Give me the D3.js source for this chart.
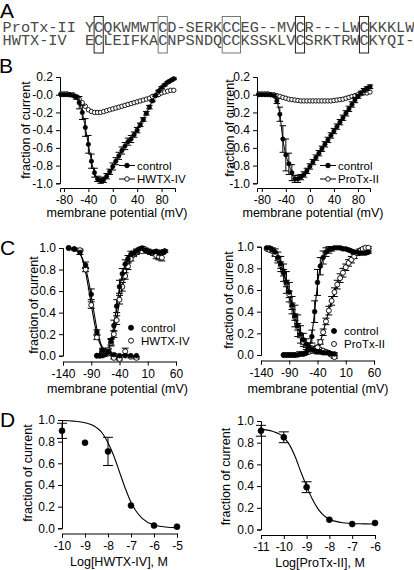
<!DOCTYPE html>
<html><head><meta charset="utf-8">
<script src="https://cdn.jsdelivr.net/npm/d3@7"></script>
<style>
body{margin:0;background:#fff}
svg{display:block}
</style>
</head><body>
<svg id="fig" width="414" height="570"></svg>
<script>
// ---------- DATA ----------
// Panel A: sequence alignment
const seqNames = ["ProTx-II", "HWTX-IV "];
const seqs = ["YCQKWMWTCD-SERKCCEG--MVCR---LWCKKKLW",
              "ECLEIFKACNPSNDQCCKSSKLVCSRKTRWCKYQI-"];
const cysBoxes = [[1,1],[8,8],[15,16],[23,23],[30,30]];
const boxGray = [false, true, true, false, false];

// Panel B: current-voltage relations
const ivV = [-85,-80,-75,-70,-65,-60,-55,-50,-45,-40,-35,-30,-25,-20,-15,-10,-5,0,5,10,15,20,25,30,35,40,45,50,55,60,65,70,75,80,85,90,95,100];
const ivCtrlHW = [0,0,0,0,-0.01,-0.03,-0.09,-0.2,-0.37,-0.56,-0.75,-0.88,-0.95,-0.97,-0.96,-0.92,-0.87,-0.81,-0.75,-0.69,-0.63,-0.58,-0.53,-0.5,-0.45,-0.4,-0.34,-0.28,-0.21,-0.14,-0.07,-0.01,0.04,0.08,0.11,0.14,0.16,0.18];
const ivErrCtrlHW = [0,0,0,0,0,0.02,0.07,0.08,0.1,0.1,0.08,0.05,0.03,0.03,0.03,0.03,0.03,0.04,0.04,0.04,0.04,0.04,0.04,0.04,0.03,0.03,0.02,0.02,0.02,0.02,0.01,0.01,0.01,0.01,0.01,0.01,0.01,0.01];
const ivHWTX = [0.01,0.01,0.01,0,0,-0.02,-0.05,-0.09,-0.13,-0.17,-0.19,-0.2,-0.2,-0.2,-0.19,-0.18,-0.17,-0.16,-0.15,-0.14,-0.13,-0.12,-0.11,-0.1,-0.09,-0.08,-0.07,-0.06,-0.05,-0.04,-0.02,-0.01,0,0.02,0.03,0.04,0.05,0.05];
const ivCtrlPT = [0,0,0,0,0,-0.01,-0.07,-0.22,-0.5,-0.68,-0.78,-0.88,-0.95,-0.95,-0.93,-0.9,-0.86,-0.81,-0.76,-0.71,-0.66,-0.61,-0.56,-0.51,-0.46,-0.41,-0.36,-0.31,-0.26,-0.21,-0.16,-0.11,-0.06,-0.02,0.02,0.05,0.07,0.09];
const ivErrCtrlPT = [0,0,0,0,0,0.01,0.03,0.08,0.15,0.18,0.12,0.09,0.04,0.04,0.03,0.03,0.03,0.03,0.03,0.03,0.03,0.03,0.03,0.03,0.03,0.03,0.03,0.03,0.03,0.03,0.03,0.03,0.03,0.02,0.02,0.02,0.02,0.02];
const ivProTx = [0.01,0.01,0.01,0.01,0,0,-0.01,-0.02,-0.03,-0.04,-0.05,-0.055,-0.06,-0.065,-0.07,-0.07,-0.07,-0.07,-0.07,-0.07,-0.07,-0.07,-0.07,-0.07,-0.07,-0.065,-0.06,-0.055,-0.05,-0.04,-0.03,-0.02,-0.01,0,0.01,0.02,0.02,0.03];
const ivYTicks = [0.2,0,-0.2,-0.4,-0.6,-0.8,-1.0];
const ivYLabels = ["0.2","-0.0","-0.2","-0.4","-0.6","-0.8","-1.0"];
const ivXTicks = [-80,-40,0,40,80];

// Panel C left: inactivation / activation, HWTX-IV
const inactV1 = [-130,-120,-110,-100,-90,-80,-70,-60,-50,-40,-30,-20,-10];
const inactCtrlHW = [1.0,0.99,0.96,0.84,0.57,0.22,0.05,0.03,0.01,0,0,0,0];
const inactErrCtrlHW = [0,0.01,0.02,0.03,0.05,0.02,0.02,0.01,0.01,0,0,0,0];
const inactHWTX = [1.0,0.99,0.98,0.8,0.47,0.17,0.05,0.02,-0.02,-0.03,0.04,-0.01,-0.02];
const inactErrHWTX = [0,0,0.01,0.02,0.03,0.02,0.01,0.01,0.01,0.01,0.03,0.01,0.01];
const actV1 = [-80,-75,-70,-65,-60,-55,-50,-45,-40,-35,-30,-25,-20,-15,-10,-5,0,5,10,15,20,25,30,35,40];
const actCtrlHW = [0,0,0,0.01,0.04,0.13,0.28,0.46,0.64,0.76,0.85,0.9,0.94,0.95,0.97,0.99,1.0,0.98,0.97,0.96,0.96,0.97,0.95,0.96,0.97];
const actErrCtrlHW = [0,0,0,0.01,0.02,0.03,0.05,0.06,0.06,0.05,0.04,0.03,0.03,0.02,0.02,0.01,0.01,0.01,0.01,0.01,0.01,0.01,0.02,0.02,0.01];
const actHWTX = [0,0,0.01,0.02,0.05,0.12,0.2,0.33,0.52,0.64,0.74,0.83,0.9,0.94,0.96,0.98,0.97,0.99,0.97,0.96,0.95,0.93,0.92,0.91,0.97];
const actErrHWTX = [0,0,0,0.01,0.02,0.03,0.03,0.04,0.04,0.04,0.03,0.03,0.02,0.02,0.02,0.01,0.01,0.01,0.02,0.02,0.02,0.03,0.03,0.03,0.01];

// Panel C right: inactivation / activation, ProTx-II
const inactV2 = [-130,-125,-120,-115,-110,-105,-100,-95,-90,-85,-80,-75,-70,-65,-60,-55,-50,-45,-40,-35,-30,-25,-20,-15,-10];
const inactCtrlPT = [0.99,0.99,0.97,0.95,0.9,0.84,0.76,0.67,0.58,0.46,0.36,0.27,0.19,0.14,0.1,0.07,0.05,0.04,0.03,0.03,0.02,0.02,0.02,0.01,0.01];
const inactErrCtrlPT = [0,0.01,0.02,0.03,0.05,0.07,0.08,0.1,0.09,0.08,0.1,0.1,0.08,0.06,0.05,0.04,0.03,0.02,0.02,0.01,0.01,0.01,0.01,0.01,0.01];
const inactProTx = [0.98,0.97,0.96,0.93,0.89,0.83,0.76,0.66,0.56,0.45,0.35,0.26,0.18,0.12,0.09,0.07,0.06,0.05,0.05,0.05,0.04,0.03,0.02,0,-0.02];
const inactErrProTx = [0,0.01,0.01,0.02,0.02,0.03,0.03,0.03,0.03,0.03,0.03,0.03,0.02,0.02,0.02,0.01,0.01,0.01,0.01,0.01,0.01,0.01,0.01,0.01,0.01];
const actV2 = [-100,-95,-90,-85,-80,-75,-70,-65,-60,-55,-50,-45,-40,-35,-30,-25,-20,-15,-10,-5,0,5,10,15,20,25,30,35,40,45,50];
const actCtrlPT = [0,0,0,0,0,0,0.01,0.01,0.02,0.05,0.17,0.4,0.67,0.82,0.9,0.95,0.97,0.98,0.99,0.99,0.99,0.98,0.98,0.97,0.96,0.95,0.95,0.94,0.94,0.94,0.95];
const actErrCtrlPT = [0,0,0,0,0,0,0,0.01,0.01,0.03,0.06,0.1,0.12,0.08,0.06,0.04,0.03,0.02,0.01,0.01,0.01,0.01,0.01,0.01,0.01,0.01,0.01,0.01,0.01,0.01,0.01];
const actProTx = [0,0,0,0,0,0.01,0.01,0.01,0.02,0.03,0.04,0.05,0.07,0.12,0.21,0.31,0.41,0.5,0.58,0.65,0.71,0.76,0.81,0.85,0.88,0.91,0.94,0.96,0.98,0.99,0.99];
const actErrProTx = [0,0,0,0,0,0,0,0,0,0.01,0.01,0.01,0.02,0.02,0.03,0.03,0.04,0.04,0.04,0.04,0.04,0.04,0.03,0.03,0.03,0.02,0.02,0.02,0.01,0.01,0.01];
const gvXTicks = [-140,-90,-40,10,60];
const gvYTicks = [0,0.2,0.4,0.6,0.8,1.0];

// Panel D: concentration-response
const doseHW = [-10,-9,-8,-7,-6,-5];
const respHW = [0.9,0.79,0.71,0.21,0.025,0.015];
const errHW = [0.07,0,0.13,0,0,0];
const fitHWx = [-10,-9.5,-9,-8.5,-8.25,-8,-7.75,-7.5,-7.25,-7,-6.75,-6.5,-6,-5.5,-5];
const fitHWy = [0.995,0.99,0.975,0.93,0.88,0.79,0.67,0.52,0.37,0.24,0.15,0.09,0.03,0.012,0.006];
const dosePT = [-11,-10,-9,-8,-7,-6];
const respPT = [0.91,0.85,0.39,0.09,0.05,0.06];
const errPT = [0.05,0.05,0.05,0,0,0];
const fitPTx = [-11,-10.5,-10,-9.75,-9.5,-9.25,-9,-8.75,-8.5,-8.25,-8,-7.5,-7,-6.5,-6];
const fitPTy = [0.925,0.905,0.85,0.78,0.67,0.53,0.4,0.28,0.19,0.13,0.095,0.065,0.055,0.052,0.05];
const drXTicksHW = [-10,-9,-8,-7,-6,-5];
const drXTicksPT = [-11,-10,-9,-8,-7,-6];

// ---------- DRAWING ----------
const svg = d3.select("#fig");
const FONT = "Arial, 'Liberation Sans', sans-serif";
const MONO = "'Liberation Mono', 'Courier New', monospace";

// Panel letters
[["A",0,17.5],["B",-1,73.3],["C",0,255],["D",0,427]].forEach(([t,x,y]) =>
  svg.append("text").attr("x",x).attr("y",y).style("font-size","21px").style("font-family",FONT).text(t));

// Panel A
const charW = 9.15, nameX = 2.6, seqX0 = nameX + 9*charW;
const lineY = [31.5, 45];
seqs.forEach((s,i) => {
  const full = (seqNames[i] + " " + s).replace(/ /g, "\u00a0");
  svg.append("text").attr("x",nameX).attr("y",lineY[i])
    .attr("textLength", full.length*charW).attr("lengthAdjust","spacing")
    .style("font-family",MONO).style("font-size","15.25px").attr("fill","#4a4a4a")
    .text(full);
});
cysBoxes.forEach(([c0,c1],k) => {
  svg.append("rect").attr("x",seqX0 + c0*charW).attr("y",16.5)
    .attr("width",(c1-c0+1)*charW).attr("height",36.5)
    .attr("fill","none").attr("stroke", boxGray[k] ? "#777" : "#222").attr("stroke-width",1);
});

function drawAxes(x, y, xAxisY, yAxisX, xTicks, yTicks, yFmt, xFmt) {
  const gy = svg.append("g").attr("transform",`translate(${yAxisX},0)`)
    .call(d3.axisLeft(y).tickValues(yTicks).tickFormat(yFmt).tickSizeOuter(0).tickSize(4).tickPadding(3));
  const gx = svg.append("g").attr("transform",`translate(0,${xAxisY})`)
    .call(d3.axisBottom(x).tickValues(xTicks).tickFormat(xFmt || (d=>d)).tickSizeOuter(0).tickSize(4).tickPadding(3.5));
  [gy,gx].forEach(g => {
    g.attr("font-size",12).attr("font-family",FONT);
    g.selectAll("path,line").attr("stroke","#000").attr("stroke-width",1);
    g.selectAll("text").attr("fill","#000");
  });
}
function yTitle(x, y, t) {
  svg.append("text").attr("transform",`translate(${x},${y}) rotate(-90)`)
    .attr("text-anchor","middle").style("font-size","12.5px").style("font-family",FONT).text(t);
}
function xTitle(x, y, t) {
  svg.append("text").attr("x",x).attr("y",y).attr("text-anchor","middle")
    .style("font-size","12.5px").style("font-family",FONT).text(t);
}
function errorBars(xs, ys, es, x, y, cap) {
  const g = svg.append("g").attr("stroke","#000").attr("stroke-width",1);
  xs.forEach((v,i) => {
    const e = es[i]; if (!e) return;
    const px = x(v);
    g.append("line").attr("x1",px).attr("x2",px).attr("y1",y(ys[i]-e)).attr("y2",y(ys[i]+e));
    g.append("line").attr("x1",px-cap/2).attr("x2",px+cap/2).attr("y1",y(ys[i]+e)).attr("y2",y(ys[i]+e));
    g.append("line").attr("x1",px-cap/2).attr("x2",px+cap/2).attr("y1",y(ys[i]-e)).attr("y2",y(ys[i]-e));
  });
}
function markers(xs, ys, x, y, r, open) {
  svg.append("g").selectAll("circle").data(xs).join("circle")
    .attr("cx",(d)=>x(d)).attr("cy",(d,i)=>y(ys[i])).attr("r",r)
    .attr("fill", open ? "#fff" : "#000").attr("stroke","#000").attr("stroke-width",open?0.9:0.6);
}
function curve(xs, ys, x, y, c, w) {
  svg.append("path").datum(xs.map((v,i)=>[v,ys[i]]))
    .attr("fill","none").attr("stroke","#000").attr("stroke-width",w||1)
    .attr("d", d3.line().x(d=>x(d[0])).y(d=>y(d[1])).curve(c));
}

// ----- Panel B -----
function panelB(x0, x1, dom, ctrl, err, tox, toxName, legX) {
  const x = d3.scaleLinear().domain(dom).range([x0, x1]);
  const y = d3.scaleLinear().domain([-1.0, 0.2]).range([183.3, 77]);
  drawAxes(x, y, 188, x0, ivXTicks, ivYTicks, (d,i)=>ivYLabels[i]);
  curve(ivV, tox, x, y, d3.curveMonotoneX, 0.9);
  markers(ivV, tox, x, y, 2.2, true);
  errorBars(ivV, ctrl, err, x, y, 6.5);
  curve(ivV, ctrl, x, y, d3.curveMonotoneX, 1);
  markers(ivV, ctrl, x, y, 2.2, false);
  // legend
  const leg = [["control",false,165.5],[toxName,true,179]];
  leg.forEach(([t,open,ly]) => {
    svg.append("line").attr("x1",legX-8).attr("x2",legX+8).attr("y1",ly).attr("y2",ly).attr("stroke","#000");
    svg.append("circle").attr("cx",legX).attr("cy",ly).attr("r",2.3)
      .attr("fill",open?"#fff":"#000").attr("stroke","#000").attr("stroke-width",0.9);
    svg.append("text").attr("x",legX+10).attr("y",ly+4).style("font-size","11.5px").style("font-family",FONT).text(t);
  });
}
panelB(60, 175, [-86.5, 102], ivCtrlHW, ivErrCtrlHW, ivHWTX, "HWTX-IV", 127);
panelB(257, 370, [-88, 100], ivCtrlPT, ivErrCtrlPT, ivProTx, "ProTx-II", 328);
yTitle(29.5, 130, "fraction of current");
yTitle(233.5, 128, "fraction of current");
xTitle(117, 217, "membrane potential (mV)");
xTitle(313, 217, "membrane potential (mV)");

// ----- Panel C -----
function panelC(x0, x1, yTop, yBot, axisY, sets, toxName, legX, legY) {
  const x = d3.scaleLinear().domain([-140, 60]).range([x0, x1]);
  const y = d3.scaleLinear().domain([0, 1]).range([yBot, yTop]);
  drawAxes(x, y, axisY, x0, gvXTicks, gvYTicks, d3.format(".1f"));
  sets.forEach(s => errorBars(s.v, s.y, s.e, x, y, 7));
  sets.forEach(s => curve(s.v, s.y, x, y, d3.curveBasis, 1.1));
  sets.filter(s=>s.open).forEach(s => markers(s.v, s.y, x, y, 2.5, true));
  sets.filter(s=>!s.open).forEach(s => markers(s.v, s.y, x, y, 2.4, false));
  [["control",false,0],[toxName,true,13]].forEach(([t,open,dy]) => {
    svg.append("circle").attr("cx",legX).attr("cy",legY+dy).attr("r",2.5)
      .attr("fill",open?"#fff":"#000").attr("stroke","#000").attr("stroke-width",0.9);
    svg.append("text").attr("x",legX+10).attr("y",legY+dy+4).style("font-size","11.5px").style("font-family",FONT).text(t);
  });
}
panelC(63, 176, 248, 355.7, 361.5, [
  {v:inactV1, y:inactHWTX, e:inactErrHWTX, open:true},
  {v:actV1, y:actHWTX, e:actErrHWTX, open:true},
  {v:inactV1, y:inactCtrlHW, e:inactErrCtrlHW, open:false},
  {v:actV1, y:actCtrlHW, e:actErrCtrlHW, open:false}
], "HWTX-IV", 131, 327.7);
panelC(261, 374, 246.7, 355, 360.5, [
  {v:inactV2, y:inactProTx, e:inactErrProTx, open:true},
  {v:actV2, y:actProTx, e:actErrProTx, open:true},
  {v:inactV2, y:inactCtrlPT, e:inactErrCtrlPT, open:false},
  {v:actV2, y:actCtrlPT, e:actErrCtrlPT, open:false}
], "ProTx-II", 334, 331);
yTitle(37.5, 305, "fraction of current");
yTitle(232.5, 300, "fraction of current");
xTitle(117.5, 393, "membrane potential (mV)");
xTitle(318, 393, "membrane potential (mV)");

// ----- Panel D -----
function panelD(x0, x1, dom, yTop, yBot, axisY, xt, dose, resp, err, fx, fy) {
  const x = d3.scaleLinear().domain(dom).range([x0, x1]);
  const y = d3.scaleLinear().domain([0, 1]).range([yBot, yTop]);
  drawAxes(x, y, axisY, x0, xt, gvYTicks, d3.format(".1f"));
  curve(fx, fy, x, y, d3.curveMonotoneX, 1.1);
  errorBars(dose, resp, err, x, y, 10);
  markers(dose, resp, x, y, 3, false);
}
panelD(62, 177, [-10,-5], 420, 528.3, 533.5, drXTicksHW, doseHW, respHW, errHW, fitHWx, fitHWy);
panelD(261, 375, [-11,-6], 421, 529.5, 535, drXTicksPT, dosePT, respPT, errPT, fitPTx, fitPTy);
yTitle(32, 473, "fraction of current");
yTitle(229.5, 476.5, "fraction of current");
xTitle(119, 566, "Log[HWTX-IV], M");
xTitle(320, 567, "Log[ProTx-II], M");
</script>
</body></html>
